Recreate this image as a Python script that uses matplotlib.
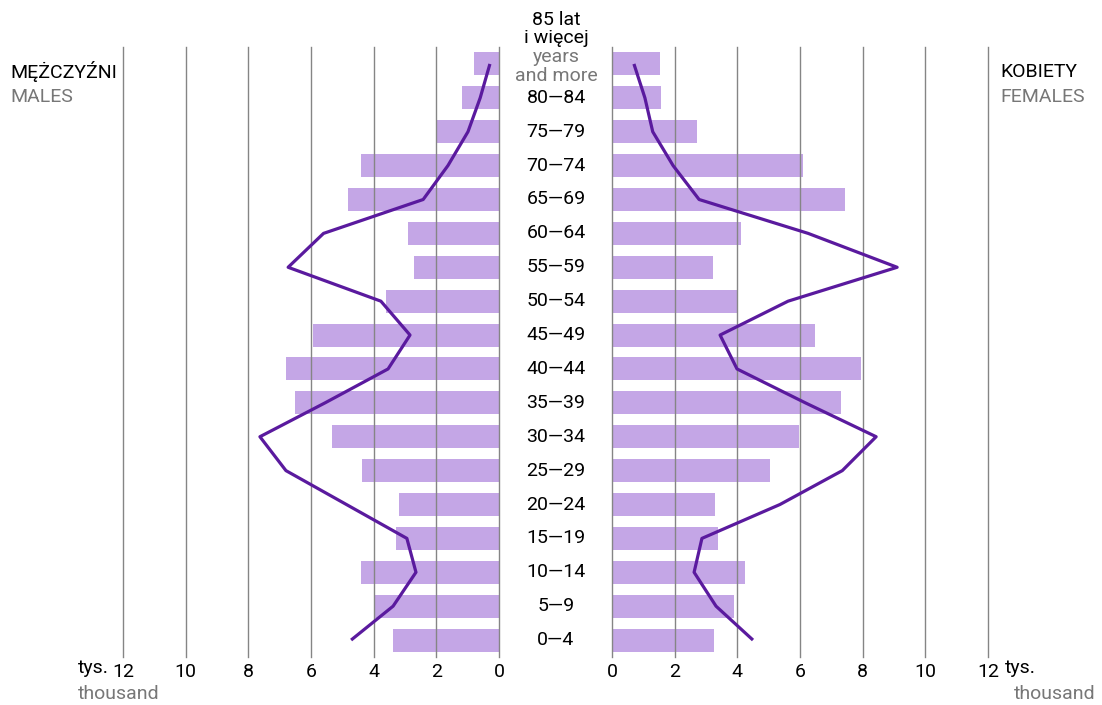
import matplotlib
matplotlib.use('Agg')
import matplotlib.pyplot as plt
import matplotlib.transforms as mtransforms

plt.rcParams['font.family'] = ['Roboto', 'DejaVu Sans']

# age groups from youngest to oldest
ages = ['0—4', '5—9', '10—14', '15—19', '20—24', '25—29', '30—34', '35—39', '40—44',
        '45—49', '50—54', '55—59', '60—64', '65—69', '70—74', '75—79', '80—84', '85+']

# bars (thousands)
males_bar = [3.38, 4.0, 4.4, 3.29, 3.19, 4.37, 5.33, 6.5, 6.8,
             5.94, 3.6, 2.7, 2.9, 4.82, 4.4, 2.0, 1.18, 0.8]
females_bar = [3.26, 3.89, 4.24, 3.38, 3.29, 5.04, 5.97, 7.31, 7.95,
               6.48, 3.99, 3.22, 4.12, 7.44, 6.1, 2.71, 1.56, 1.53]

# lines (thousands)
males_line = [4.72, 3.38, 2.65, 2.94, 4.87, 6.8, 7.63, 5.55, 3.54,
              2.84, 3.77, 6.73, 5.6, 2.42, 1.63, 0.99, 0.6, 0.29]
females_line = [4.5, 3.32, 2.62, 2.87, 5.36, 7.35, 8.43, 6.17, 3.99,
                3.45, 5.62, 9.1, 6.26, 2.78, 1.95, 1.3, 1.05, 0.7]

ticks = [0, 2, 4, 6, 8, 10, 12]

bar_color = '#c4a6e6'
line_color = '#5a1a9e'
grid_color = '#858585'
gray = '#777777'
fs = 14

W, H = 1102, 705
fig = plt.figure(figsize=(W / 100, H / 100), dpi=100)

ax_l = fig.add_axes([123 / W, (H - 657) / H, 376 / W, 610 / H])
ax_r = fig.add_axes([612 / W, (H - 657) / H, 376 / W, 610 / H])

y = list(range(len(ages)))

for ax, bars, line in [(ax_l, males_bar, males_line), (ax_r, females_bar, females_line)]:
    ax.barh(y, bars, height=0.68, color=bar_color, zorder=1)
    for t in ticks:
        ax.axvline(t, color=grid_color, lw=1, zorder=2, clip_on=False)
    ax.plot(line, y, color=line_color, lw=2.3, zorder=3, solid_capstyle='butt')
    ax.set_ylim(-0.5, len(ages) - 0.5)
    ax.set_yticks([])
    ax.set_xticks(ticks)
    ax.set_xticklabels([str(t) for t in ticks], fontsize=fs)
    ax.tick_params(axis='x', length=0, pad=4)
    for s in ax.spines.values():
        s.set_visible(False)

ax_l.set_xlim(12, 0)
ax_r.set_xlim(0, 12)

# age labels in the middle
tr = mtransforms.blended_transform_factory(fig.transFigure, ax_l.transData)
xc = 556 / W
for i, a in enumerate(ages[:-1]):
    ax_l.text(xc, i, a, transform=tr, ha='center', va='center', fontsize=fs, color='black')
ax_l.text(xc, 18.3, '85 lat', transform=tr, ha='center', va='center', fontsize=fs, color='black')
ax_l.text(xc, 17.77, 'i więcej', transform=tr, ha='center', va='center', fontsize=fs, color='black')
ax_l.text(xc, 17.2, 'years', transform=tr, ha='center', va='center', fontsize=fs, color=gray)
ax_l.text(xc, 16.64, 'and more', transform=tr, ha='center', va='center', fontsize=fs, color=gray)

# headers
fig.text(10 / W, 1 - 72 / H, 'MĘŻCZYŹNI', ha='left', va='center', fontsize=fs, color='black')
fig.text(10 / W, 1 - 97 / H, 'MALES', ha='left', va='center', fontsize=fs, color=gray)
fig.text(1000 / W, 1 - 72 / H, 'KOBIETY', ha='left', va='center', fontsize=fs, color='black')
fig.text(1000 / W, 1 - 97 / H, 'FEMALES', ha='left', va='center', fontsize=fs, color=gray)

# units
fig.text(78 / W, 1 - 668 / H, 'tys.', ha='left', va='center', fontsize=fs, color='black')
fig.text(78 / W, 1 - 694 / H, 'thousand', ha='left', va='center', fontsize=fs, color=gray)
fig.text(1005 / W, 1 - 668 / H, 'tys.', ha='left', va='center', fontsize=fs, color='black')
fig.text(1096 / W, 1 - 694 / H, 'thousand', ha='right', va='center', fontsize=fs, color=gray)

fig.savefig('out.png', dpi=100)
